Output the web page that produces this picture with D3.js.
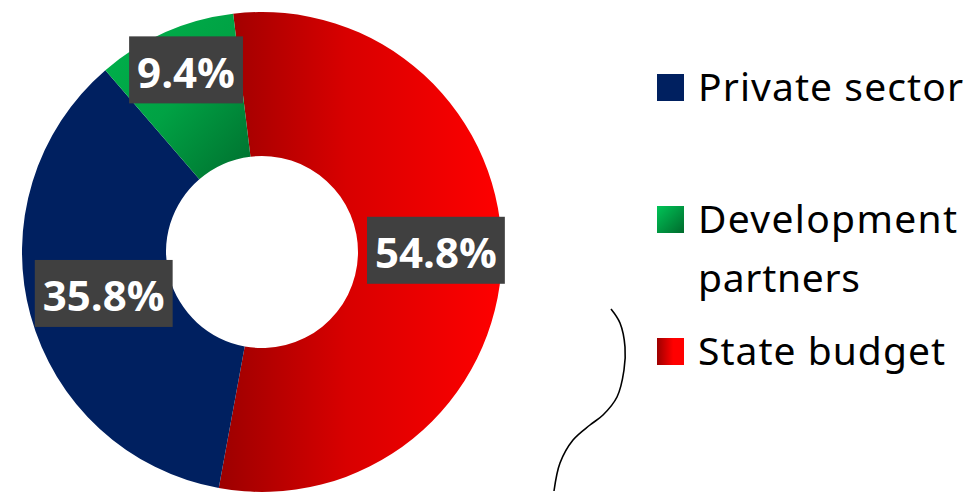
<!DOCTYPE html>
<html><head><meta charset="utf-8">
<script src="https://cdn.jsdelivr.net/npm/d3@7"></script>
<style>html,body{margin:0;padding:0;background:#fff;}svg{display:block;}</style>
</head><body>
<svg id="chart" width="970" height="492"></svg>
<script>
// Data (pie drawing order, clockwise from top)
const categories = ["State budget", "Private sector", "Development partners"];
const values = [54.8, 35.8, 9.4];
const labels = ["54.8%", "35.8%", "9.4%"];
// Legend order
const legendOrder = ["Private sector", "Development partners", "State budget"];
const legendLines = {"Private sector": ["Private sector"], "Development partners": ["Development", "partners"], "State budget": ["State budget"]};
// decorative curve (reference stroke)
const curvePts = [[611,309],[620,323],[625,347],[624,370],[617,397],[603,415],[590,425],[573,440],[560,463],[554,491]];

const svg = d3.select("#chart");
const cx = 262, cy = 252, rOuter = 240, rInner = 96;
const startA = -6.9 * Math.PI / 180;

const defs = svg.append("defs");
function grad(id, x2, y2, stops){
  const gr = defs.append("linearGradient").attr("id",id).attr("x1","0").attr("y1","0").attr("x2",x2).attr("y2",y2);
  stops.forEach(s=>gr.append("stop").attr("offset",s[0]).attr("stop-color",s[1]));
}
grad("gRed","1","0",[["0","#9c0000"],["0.45","#d80000"],["1","#ff0000"]]);
grad("gGreen","1","1",[["0","#00b34c"],["0.5","#00a244"],["1","#006e2e"]]);
grad("gRedL","1","0",[["0","#9c0000"],["0.6","#ff0000"],["1","#ff0000"]]);
grad("gGreenL","1","1",[["0","#00c457"],["1","#006a2c"]]);

const fillMap = {"State budget":"url(#gRed)","Private sector":"#002060","Development partners":"url(#gGreen)"};
const legendFill = {"State budget":"url(#gRedL)","Private sector":"#002060","Development partners":"url(#gGreenL)"};
const labelR = {"State budget":174,"Private sector":164,"Development partners":198};
const labelDx = {"State budget":0,"Private sector":0,"Development partners":4};
const labelDy = {"State budget":-7,"Private sector":-1.5,"Development partners":-1};

const data = categories.map((c,i)=>({cat:c, value:values[i], label:labels[i]}));
const pie = d3.pie().sort(null).value(d=>d.value).startAngle(startA).endAngle(startA + 2*Math.PI);
const arcs = pie(data);
const arc = d3.arc().innerRadius(rInner).outerRadius(rOuter);

const g = svg.append("g").attr("transform",`translate(${cx},${cy})`);
g.selectAll("path.slice").data(arcs).join("path")
  .attr("class","slice")
  .attr("d", arc)
  .attr("fill", d=>fillMap[d.data.cat]);

// labels
const labFont = "'Open Sans', 'DejaVu Sans', sans-serif";
arcs.forEach(d=>{
  const c = d.data.cat;
  const la = d3.arc().innerRadius(labelR[c]).outerRadius(labelR[c]);
  const [x,y] = la.centroid(d);
  const lg = g.append("g").attr("transform",`translate(${x + labelDx[c]},${y + labelDy[c]})`);
  const rect = lg.append("rect").attr("fill","#404040");
  const t = lg.append("text").text(d.data.label)
    .attr("text-anchor","middle").attr("dominant-baseline","central")
    .attr("y",1.5)
    .attr("fill","#fff").attr("font-family",labFont).attr("font-weight","bold")
    .attr("font-size",42);
  const bb = t.node().getBBox();
  const w = bb.width + 16, h = 67;
  rect.attr("x",-w/2).attr("y",-h/2).attr("width",w).attr("height",h);
});

// legend
const legFont = "'Noto Sans','Open Sans',sans-serif";
const legY = {"Private sector":74,"Development partners":206,"State budget":338};
const legW = {"Private sector":265,"Development":259,"partners":162,"State budget":247};
const lgd = svg.append("g");
legendOrder.forEach(c=>{
  const y0 = legY[c];
  lgd.append("rect").attr("x",657).attr("y",y0).attr("width",27).attr("height",27).attr("fill",legendFill[c]);
  legendLines[c].forEach((ln,i)=>{
    lgd.append("text").text(ln).attr("x",698).attr("y",y0+27+i*59)
      .attr("font-family",legFont).attr("font-size",39).attr("fill","#000")
      .attr("textLength",legW[ln]).attr("lengthAdjust","spacing");
  });
});

// decorative curve
svg.append("path")
  .attr("d", d3.line().curve(d3.curveCatmullRom)(curvePts))
  .attr("fill","none").attr("stroke","#000").attr("stroke-width",1.6);
</script>
</body></html>
